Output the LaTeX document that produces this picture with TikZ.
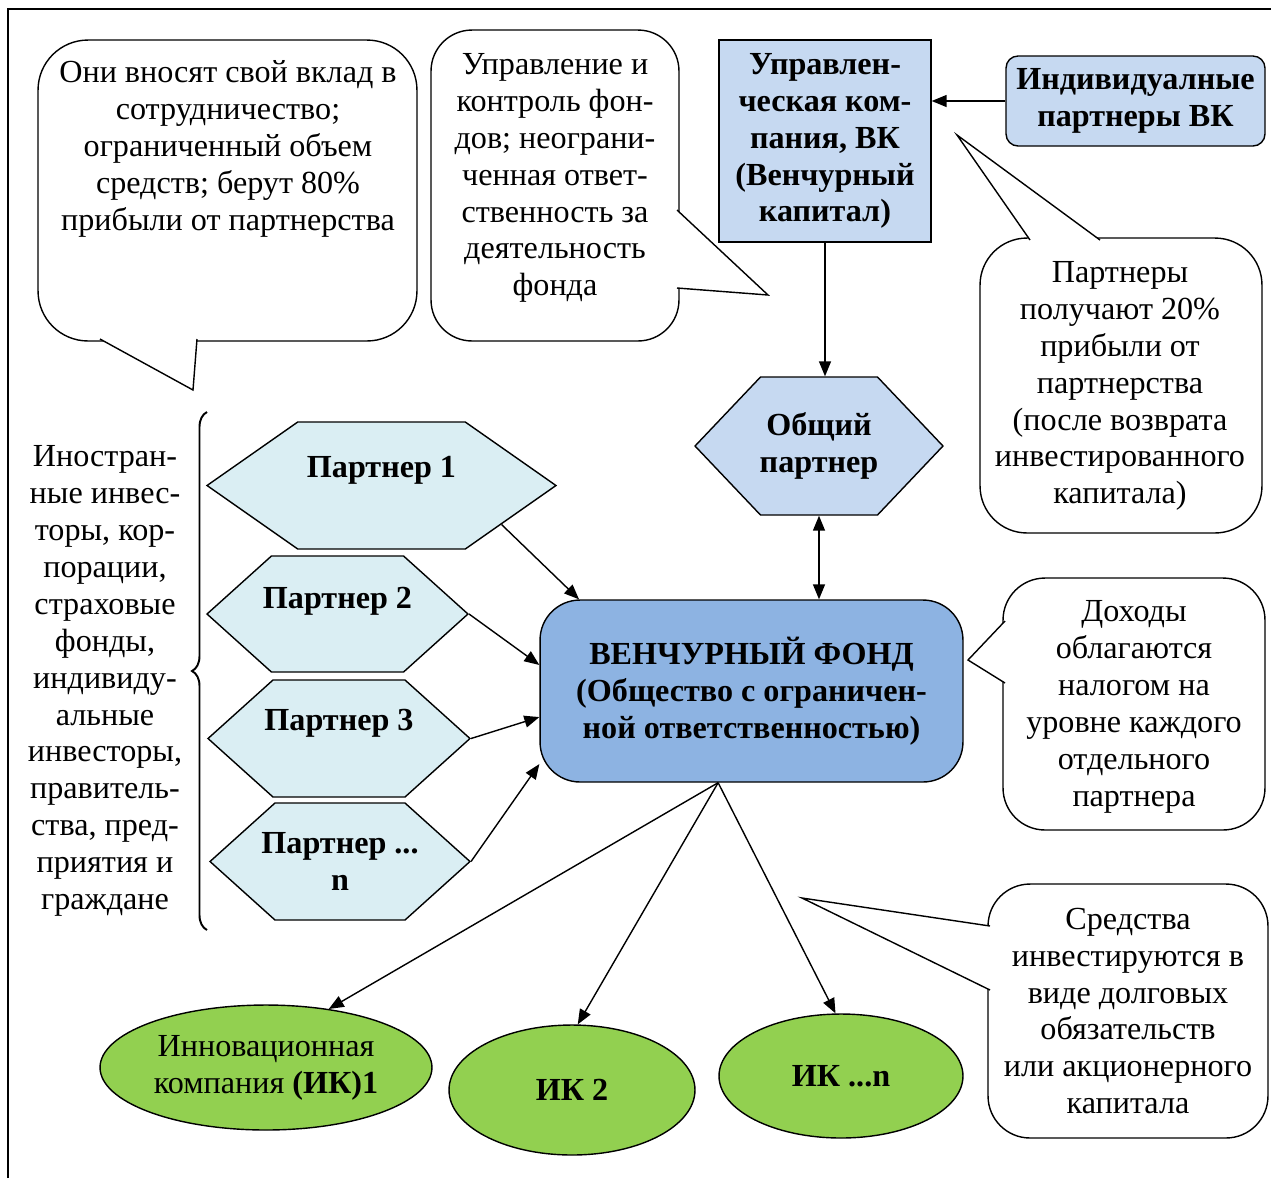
\documentclass[tikz,border=0pt]{standalone}
\usepackage{fontspec}
\setmainfont{Liberation Serif}
\usetikzlibrary{arrows.meta,shapes.geometric,shapes.symbols,decorations.pathreplacing}
\definecolor{vkblue}{HTML}{C6D9F1}
\definecolor{fundblue}{HTML}{8DB3E2}
\definecolor{partcyan}{HTML}{DAEEF3}
\definecolor{ikgreen}{HTML}{92D050}
\def\pointer(#1)(#2)(#3){\fill[white] (#1) -- (#2) -- (#3) -- cycle; \draw[line width=0.8pt] (#1) -- (#2) -- (#3);}

\begin{document}
\begin{tikzpicture}[x=0.02cm, y=-0.02cm,
	txt/.style={font=\fontsize{18.3}{21}\selectfont, align=center, inner sep=0pt},
	btxt/.style={txt, font=\fontsize{18.3}{21}\selectfont\bfseries},
	note/.style={draw, line width=0.8pt, fill=white, rounded corners=#1},
	hexa/.style={signal, signal to=west and east, draw, line width=0.8pt, inner ysep=0pt, btxt, inner xsep=-0.35cm},
	oval/.style={ellipse, draw, line width=0.8pt, fill=ikgreen, inner sep=0pt, txt},
	arr/.style={line width=0.8pt, -{Triangle[length=0.3cm,width=0.24cm]}}]
			%%%%% START %%%%%
			\useasboundingbox (0,0) rectangle (1271,1178);
			\draw[line width=0.8pt] (8,1178) -- (8,9) -- (1271,9);
			
			% callouts
			\node[note=1cm, minimum width=7.58cm, minimum height=6.02cm] (c1) at (227.5,190.5) {};
			\node[note=0.82cm, minimum width=4.96cm, minimum height=6.22cm] (c2) at (555,185.5) {};
			\node[note=0.94cm, minimum width=5.64cm, minimum height=5.9cm] (c3) at (1121,385.5) {};
			\node[note=0.84cm, minimum width=5.24cm, minimum height=5.04cm] (c4) at (1134,704) {};
			\node[note=0.84cm, minimum width=5.6cm, minimum height=5.08cm] (c5) at (1128,1011) {};
			\pointer(100,339)(193,390)(197,339)
			\pointer(677,210)(768,295)(677,288)
			\pointer(1030,240)(957,135)(1100,240)
			\pointer(1005,621)(968,660)(1005,683)
			\pointer(990,926)(802,898)(990,990)
			
			\node[txt] (c1text) at (228,149) {Они вносят свой вклад в\\сотрудничество;\\ограниченный объем\\средств; берут 80\%\\прибыли от партнерства};
			\node[txt] (c2text) at (555,178) {Управление и\\контроль фон-\\дов; неограни-\\ченная ответ-\\ственность за\\деятельность\\фонда};
			\node[txt] (c3text) at (1120,386) {Партнеры\\получают 20\%\\прибыли от\\партнерства\\(после возврата\\инвестированного\\капитала)};
			\node[txt] (c4text) at (1134,707) {Доходы\\облагаются\\налогом на\\уровне каждого\\отдельного\\партнера};
			\node[txt] (c5text) at (1128,1011) {Средства\\инвестируются в\\виде долговых\\обязательств\\или акционерного\\капитала};
			
			% boxes
			\node[draw, line width=0.8pt, fill=vkblue, minimum width=4.24cm, minimum height=4.04cm, btxt] (vk) at (825,141) {Управлен-\\ческая ком-\\пания, ВК\\(Венчурный\\капитал)};
			\node[draw, line width=0.8pt, fill=vkblue, rounded corners=0.24cm, minimum width=5.18cm, minimum height=1.8cm, btxt] (ind) at (1135.5,101) {Индивидуалные\\партнеры ВК};
			\node[hexa, fill=vkblue, signal pointer angle=93, minimum width=4.96cm, minimum height=2.76cm] (obs) at (819,446) {Общий\\партнер};
			\node[draw, line width=0.8pt, fill=fundblue, rounded corners=0.8cm, minimum width=8.46cm, minimum height=3.64cm, btxt] (fund) at (751.5,691) {ВЕНЧУРНЫЙ ФОНД\\(Общество с ограничен-\\ной ответственностью)};
			
			% partners
			\node[hexa, fill=partcyan, signal pointer angle=70, minimum width=6.98cm, minimum height=2.54cm] (p1) at (381.5,485.5) {Партнер 1\\\mbox{}};
			\node[hexa, fill=partcyan, signal pointer angle=84, minimum width=5.22cm, minimum height=2.32cm] (p2) at (337.5,614) {Партнер 2\\[-1mm]\mbox{}};
			\node[hexa, fill=partcyan, signal pointer angle=84, minimum width=5.24cm, minimum height=2.34cm] (p3) at (339,738.5) {Партнер 3\\\mbox{}};
			\node[hexa, fill=partcyan, signal pointer angle=84, minimum width=5.2cm, minimum height=2.34cm] (pn) at (340,861.5) {Партнер ...\\n};
			
			\draw[line width=1.1pt, decorate, decoration={brace, amplitude=0.3cm}] (207,930) -- (207,412);
			\node[txt] (inv) at (105,681) {Иностран-\\ные инвес-\\торы, кор-\\порации,\\страховые\\фонды,\\индивиду-\\альные\\инвесторы,\\правитель-\\ства, пред-\\приятия и\\граждане};
			
			% companies
			\node[oval, minimum width=6.64cm, minimum height=2.5cm] (ik1) at (266,1067.5) {Инновационная\\компания \textbf{(ИК)1}};
			\node[oval, minimum width=4.92cm, minimum height=2.6cm] (ik2) at (572,1090) {\textbf{ИК 2}};
			\node[oval, minimum width=4.88cm, minimum height=2.48cm] (ikn) at (841,1076) {\textbf{ИК ...n}};
			
			% arrows
			\draw[arr] (ind.west) -- (ind.west -| vk.east);
			\draw[arr] (vk.south) -- (vk.south |- obs.north);
			\draw[arr, {Triangle[length=0.3cm,width=0.24cm]}-{Triangle[length=0.3cm,width=0.24cm]}] (obs.south) -- (obs.south |- fund.north);
			\draw[arr] (p1.-18) -- (fund.152.6);
			\draw[arr] (p2.east) -- (fund.173.8);
			\draw[arr] (p3.east) -- (fund.-173.3);
			\draw[arr] (pn.east) -- (fund.-161.4);
			\draw[arr] (fund.-110) -- (ik1.43);
			\draw[arr] (fund.-110) -- (ik2.85);
			\draw[arr] (fund.-110) -- (ikn.95);
			%%%%% END %%%%%
\end{tikzpicture}
\end{document}
